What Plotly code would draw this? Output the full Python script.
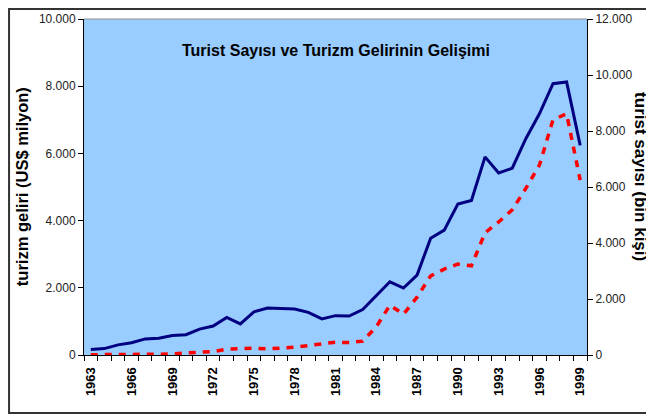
import plotly.graph_objects as go

years = list(range(1963, 2000))

# turist sayısı (bin kişi) - right axis
turist = [198, 229, 361, 440, 575, 602, 694, 724, 926, 1034, 1341, 1110, 1540,
          1675, 1661, 1644, 1523, 1288, 1405, 1391, 1625, 2117, 2614, 2391,
          2855, 4172, 4459, 5389, 5517, 7076, 6500, 6670, 7726, 8614, 9689,
          9752, 7487]

# turizm geliri (US$ milyon) - left axis
gelir = [8, 8, 14, 13, 13, 24, 37, 52, 62, 103, 171, 194, 201, 181, 204, 230,
         281, 327, 381, 370, 411, 840, 1482, 1215, 1721, 2355, 2557, 2705,
         2654, 3639, 3959, 4321, 4957, 5650, 7002, 7177, 5203]

label_years = list(range(1963, 2000, 3))

FONT = "Liberation Sans, Arial, sans-serif"

fig = go.Figure()
fig.add_trace(go.Scatter(x=years, y=turist, yaxis="y2", mode="lines",
                         line=dict(color="#000080", width=3), showlegend=False))
fig.add_trace(go.Scatter(x=years, y=gelir, yaxis="y", mode="lines",
                         line=dict(color="#FF0000", width=3.5, dash="7px,7px"),
                         showlegend=False))

# page body has an 8px margin, so the figure is 8px smaller and shifted
fig.update_layout(
    width=646, height=408,
    margin=dict(l=76, r=67, t=11, b=61, autoexpand=False),
    paper_bgcolor="white", plot_bgcolor="#99CCFF",
    separators=",.",
    font=dict(family=FONT, size=12, color="black"),
    xaxis=dict(range=[1962.5, 1999.5], tickvals=label_years, ticks="",
               tickangle=-90, automargin=False, ticklabelstandoff=6,
               tickfont=dict(size=13, family=FONT, weight="bold"),
               showgrid=False, zeroline=False, showline=True, linecolor="black",
               linewidth=1,
               minor=dict(tick0=1962.5, dtick=1, ticks="outside", ticklen=5,
                          tickcolor="black", showgrid=False)),
    yaxis=dict(range=[0, 10000], dtick=2000, tickformat=",d", ticks="outside",
               ticklen=5, tickcolor="black", showgrid=False, zeroline=False,
               showline=True, linecolor="black", linewidth=1, automargin=False,
               tickfont=dict(size=12, color="#222")),
    yaxis2=dict(range=[0, 12000], dtick=2000, tickformat=",d", ticks="outside",
                ticklen=5, tickcolor="black", showgrid=False, zeroline=False,
                showline=True, linecolor="black", linewidth=1, side="right",
                overlaying="y", automargin=False,
                tickfont=dict(size=12, color="#222")),
)

# plot area top edge (grey) and outer chart frame
fig.add_shape(type="line", xref="paper", yref="paper", x0=0, x1=1, y0=1, y1=1,
              line=dict(color="#909090", width=1))
fig.add_shape(type="rect", xref="paper", yref="paper", x0=-0.149, x1=1.2,
              y0=-0.1726, y1=1.0298, line=dict(color="#333333", width=2))

fig.add_annotation(text="<b>Turist Sayısı ve Turizm Gelirinin Gelişimi</b>",
                   xref="paper", yref="paper", x=0.5, y=0.938, showarrow=False,
                   font=dict(size=16, family=FONT, color="black"))
fig.add_annotation(text="<b>turizm geliri (US$ milyon)</b>", textangle=-90,
                   xref="paper", yref="paper", x=-0.123, y=0.5, showarrow=False,
                   xanchor="center", yanchor="middle",
                   font=dict(size=16.5, family=FONT, color="black"))
fig.add_annotation(text="<b>turist sayısı (bin kişi)</b>", textangle=90,
                   xref="paper", yref="paper", x=1.105, y=0.53, showarrow=False,
                   xanchor="center", yanchor="middle",
                   font=dict(size=17, family=FONT, color="black"))

fig.write_html("out.html")
